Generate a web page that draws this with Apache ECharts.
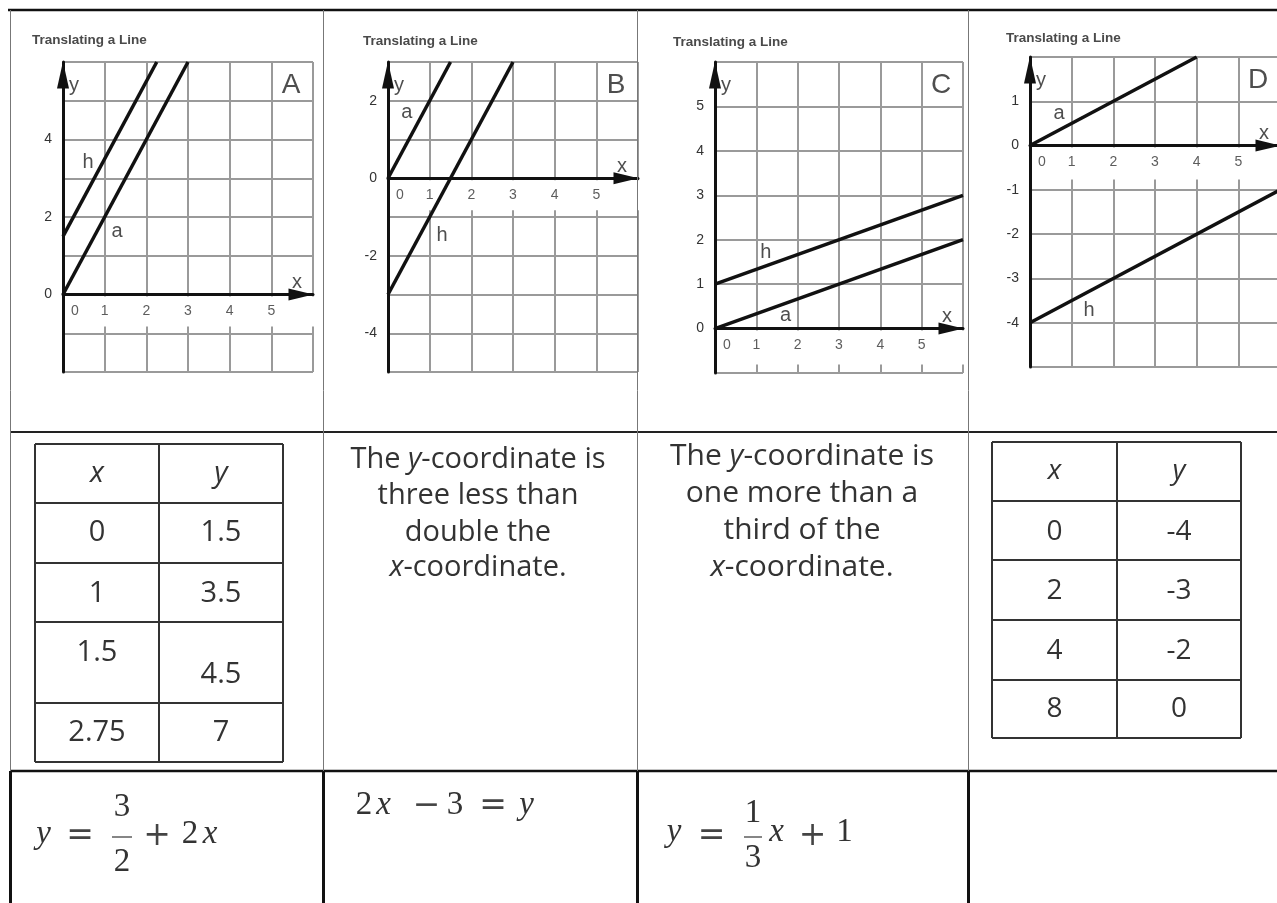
<!DOCTYPE html>
<html>
<head>
<meta charset="utf-8">
<title>Translating a Line</title>
<script src="https://cdn.jsdelivr.net/npm/echarts@6/dist/echarts.min.js"></script>
<style>
html, body { margin: 0; padding: 0; background: #fff; }
#main { width: 1277px; height: 903px; }
</style>
</head>
<body>
<div id="main"></div>
<script>
// 四个图中的两条线 (a: 原来的线, h: 平移后的线), 端点 [x, y]
var lineA_a = [[0, 0], [3, 6]];
var lineA_h = [[0, 1.5], [2.25, 6]];
var lineB_a = [[0, 0], [1.5, 3]];
var lineB_h = [[0, -3], [3, 3]];
var lineC_a = [[0, 0], [6, 2]];
var lineC_h = [[0, 1], [6, 3]];
var lineD_a = [[0, 0], [4, 2]];
var lineD_h = [[0, -4], [6, -1]];

// 坐标轴上显示的刻度数字
var xTicks = [0, 1, 2, 3, 4, 5];
var yTicksA = [0, 2, 4];
var yTicksB = [-4, -2, 0, 2];
var yTicksC = [0, 1, 2, 3, 4, 5];
var yTicksD = [-4, -3, -2, -1, 0, 1];

// 第二行的两个表格
var tableA_x = ['0', '1', '1.5', '2.75'];
var tableA_y = ['1.5', '3.5', '4.5', '7'];
var tableD_x = ['0', '2', '4', '8'];
var tableD_y = ['-4', '-3', '-2', '0'];

// 第二行的文字
var textB = ['The {i|y}-coordinate is', 'three less than', 'double the', '{i|x}-coordinate.'];
var textC = ['The {i|y}-coordinate is', 'one more than a', 'third of the', '{i|x}-coordinate.'];
var panelTitle = 'Translating a Line';

var chart = echarts.init(document.getElementById('main'));

// 每个小图的位置和标注
var panels = [
    {grid: {left: 63, top: 62, width: 250, height: 310}, yMin: -2, yMax: 6, yTicks: yTicksA,
     a: lineA_a, h: lineA_h, tags: [[0.6, 3.4, 'h'], [1.3, 1.63, 'a']], letter: 'A', band: 30, title: [32, 40]},
    {grid: {left: 388, top: 62, width: 250, height: 310}, yMin: -5, yMax: 3, yTicks: yTicksB,
     a: lineB_a, h: lineB_h, tags: [[0.45, 1.7, 'a'], [1.3, -1.47, 'h']], letter: 'B', band: 30, title: [363, 41]},
    {grid: {left: 715, top: 62, width: 248, height: 311}, yMin: -1, yMax: 6, yTicks: yTicksC,
     a: lineC_a, h: lineC_h, tags: [[1.23, 1.71, 'h'], [1.71, 0.29, 'a']], letter: 'C', band: 34, title: [673, 42]},
    {grid: {left: 1030, top: 57, width: 250, height: 310}, yMin: -5, yMax: 2, yTicks: yTicksD,
     a: lineD_a, h: lineD_h, tags: [[0.7, 0.73, 'a'], [1.42, -3.73, 'h']], letter: 'D', band: 32, title: [1006, 38]}
];

var grids = [], xAxes = [], yAxes = [], series = [];
var GRID_LINE = {color: '#9a9a9a', width: 2};
var AXIS_LINE = {color: '#111', width: 3};
var LABEL_FONT = 'Liberation Sans';

panels.forEach(function (p, i) {
    grids.push(Object.assign({outerBoundsMode: 'none', containLabel: false}, p.grid));
    // 竖向网格线
    xAxes.push({
        type: 'value', gridIndex: i, min: 0, max: 6, interval: 1, position: 'bottom', z: 0,
        axisLine: {show: false, onZero: false}, axisTick: {show: false}, axisLabel: {show: false},
        splitLine: {show: true, lineStyle: GRID_LINE}
    });
    // x轴和箭头
    xAxes.push({
        type: 'value', gridIndex: i, min: 0, max: 6, interval: 1, position: 'bottom', z: 5,
        axisLine: {show: true, onZero: true, symbol: ['none', 'triangle'], symbolSize: [12, 25],
                   symbolOffset: [0, -12], lineStyle: AXIS_LINE},
        axisTick: {show: false}, splitLine: {show: false}, axisLabel: {show: false}
    });
    yAxes.push({
        type: 'value', gridIndex: i, min: p.yMin, max: p.yMax, interval: 1, z: 5,
        axisLine: {show: true, onZero: true, symbol: ['none', 'triangle'], symbolSize: [12, 27],
                   symbolOffset: [0, -13], lineStyle: AXIS_LINE},
        axisTick: {show: false},
        splitLine: {show: true, lineStyle: GRID_LINE},
        axisLabel: {
            margin: 11, fontSize: 14, color: '#333', fontFamily: LABEL_FONT,
            formatter: function (v) { return p.yTicks.indexOf(v) < 0 ? '' : String(v); }
        }
    });

    // x轴数字下面的白色底
    series.push({
        type: 'custom', xAxisIndex: 2 * i, yAxisIndex: i, z: 1, silent: true, data: [[0, 0]],
        renderItem: function (params, api) {
            var p0 = api.coord([0, 0]), p1 = api.coord([6, 0]);
            return {type: 'rect', shape: {x: p0[0] + 2, y: p0[1] + 2, width: p1[0] - p0[0], height: p.band},
                    style: {fill: '#fff'}};
        }
    });

    [p.a, p.h].forEach(function (d) {
        series.push({
            type: 'line', xAxisIndex: 2 * i, yAxisIndex: i, data: d, symbol: 'none', z: 6, silent: true,
            lineStyle: {color: '#111', width: 3.5}
        });
    });

    var tagData = p.tags.map(function (t) {
        return {value: [t[0], t[1]], label: {formatter: t[2]}};
    });
    tagData.push({value: [6, 0], label: {formatter: 'x', offset: [-16, -12]}});
    tagData.push({value: [0, p.yMax], label: {formatter: 'y', offset: [11, 23]}});
    tagData.push({value: [6, p.yMax], label: {formatter: p.letter, fontSize: 28, offset: [-22, 23]}});
    // x轴刻度数字, 紧贴在 y=0 的轴线下方
    xTicks.forEach(function (v) {
        tagData.push({value: [v, 0], label: {formatter: String(v), fontSize: 14, color: '#333',
                      offset: [v === 0 ? 12 : 0, 17]}});
    });
    series.push({
        type: 'scatter', xAxisIndex: 2 * i, yAxisIndex: i, z: 7, symbolSize: 0, silent: true, clip: false,
        data: tagData,
        label: {show: true, position: 'inside', fontSize: 20, color: '#222', fontFamily: LABEL_FONT}
    });
});

// 表格线、文字和公式
var graphics = [];
function addText(x, y, text, style) {
    graphics.push({
        type: 'text', x: x, y: y, silent: true, z: 10,
        style: Object.assign({text: text, align: 'center', verticalAlign: 'middle',
                              textAlign: 'center', textVerticalAlign: 'middle'}, style)
    });
}
function addLine(x1, y1, x2, y2, color, width) {
    graphics.push({
        type: 'line', silent: true, z: 10,
        shape: {x1: x1, y1: y1, x2: x2, y2: y2},
        style: {stroke: color, lineWidth: width}
    });
}

panels.forEach(function (p) {
    addText(p.title[0], p.title[1], panelTitle, {align: 'left', textAlign: 'left', fontSize: 13.5,
            fontWeight: 'bold', fontFamily: LABEL_FONT, fill: '#4a4a4a'});
});

// 外框
var colX = [10.5, 323.5, 637.5, 968.5];
addLine(8, 10, 1277, 10, '#111', 2.5);
addLine(10, 432, 1277, 432, '#222', 2);
addLine(10, 771, 1277, 771, '#111', 2.5);
colX.forEach(function (x) {
    addLine(x, 10, x, 771, '#777', 1);
    addLine(x, 771, x, 903, '#111', 3);
});

var SANS = 'Open Sans';
function drawTable(cols, rows, xs, ys, fs, dy) {
    rows.forEach(function (y) { addLine(cols[0], y, cols[2], y, '#333', 2); });
    cols.forEach(function (x) { addLine(x, rows[0], x, rows[rows.length - 1], '#333', 2); });
    var cx = [(cols[0] + cols[1]) / 2, (cols[1] + cols[2]) / 2];
    var head = {fontSize: fs, fontFamily: SANS, fontStyle: 'italic', fill: '#333'};
    var body = {fontSize: fs, fontFamily: SANS, fill: '#333'};
    addText(cx[0], (rows[0] + rows[1]) / 2, 'x', head);
    addText(cx[1], (rows[0] + rows[1]) / 2, 'y', head);
    for (var r = 0; r < xs.length; r++) {
        var cy = (rows[r + 1] + rows[r + 2]) / 2;
        var d = dy[r] || [0, 0];
        addText(cx[0], cy + d[0], xs[r], body);
        addText(cx[1], cy + d[1], ys[r], body);
    }
}
drawTable([35, 159, 283], [444, 503, 563, 622, 703, 762], tableA_x, tableA_y, 29, [[0, 0], [1, 1], [-9.5, 12.5], [0, 0]]);
drawTable([992, 1117, 1241], [442, 501, 560, 620, 680, 738], tableD_x, tableD_y, 28, [[1.5, 1.5], [1.5, 1.5], [1.5, 1.5], [0, 0]]);

function drawParagraph(lines, cx, baselines, fs) {
    var st = {fontSize: fs, fontFamily: SANS, fill: '#333',
              rich: {i: {fontSize: fs, fontFamily: SANS, fontStyle: 'italic', fill: '#333'}}};
    lines.forEach(function (t, k) {
        addText(cx, baselines[k] - 0.388 * fs, t, st);
    });
}
drawParagraph(textB, 478, [471, 507, 544, 579], 29);
drawParagraph(textC, 802, [468, 505, 542, 579], 30);

// 公式
var EQ_FS = 33;
function mathText(cx, base, s, italic) {
    addText(cx, base - 0.3375 * EQ_FS, s, {fontSize: EQ_FS, fontFamily: 'Liberation Serif',
            fontStyle: italic ? 'italic' : 'normal', fill: '#333'});
}
function mathOp(cx, axisY, s) {
    addText(cx, axisY, s, {fontSize: EQ_FS, fontFamily: 'DejaVu Serif', fill: '#444'});
}
function mathFrac(cx, num, numBase, den, denBase, barY, barW) {
    mathText(cx, numBase, num, false);
    mathText(cx, denBase, den, false);
    addLine(cx - barW / 2, barY, cx + barW / 2, barY, '#444', 1.3);
}
// y = 3/2 + 2x
mathText(43.5, 845, 'y', true);
mathOp(80, 836, '=');
mathFrac(122, '3', 818, '2', 873, 837, 20);
mathOp(157, 836, '+');
mathText(190, 845, '2', false);
mathText(210, 845, 'x', true);
// 2x - 3 = y
mathText(364, 816, '2', false);
mathText(383.5, 816, 'x', true);
mathOp(426.5, 806, '\u2212');
mathText(455, 816, '3', false);
mathOp(493, 806, '=');
mathText(526.5, 816, 'y', true);
// y = 1/3 x + 1
mathText(674, 843, 'y', true);
mathOp(711.5, 836, '=');
mathFrac(753, '1', 824, '3', 869, 837, 18);
mathText(776.5, 843, 'x', true);
mathOp(812.5, 836, '+');
mathText(844.5, 843, '1', false);

chart.setOption({
    animation: false,
    backgroundColor: '#fff',
    grid: grids,
    xAxis: xAxes,
    yAxis: yAxes,
    series: series,
    graphic: {elements: graphics}
});
</script>
</body>
</html>
